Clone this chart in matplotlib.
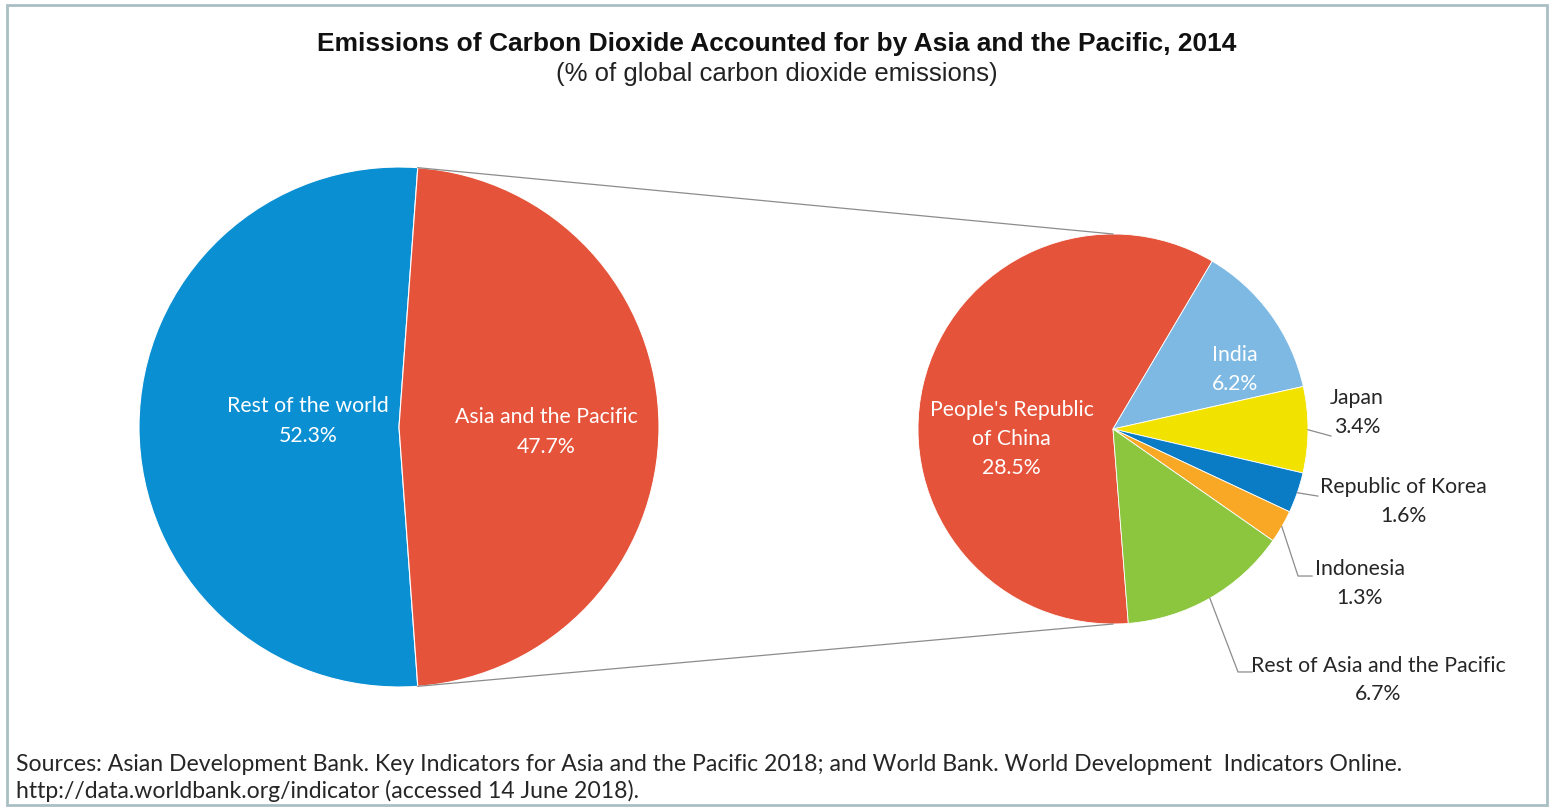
import matplotlib.pyplot as plt
from matplotlib.patches import Rectangle
import numpy as np

W, H = 1554, 812

world_labels = ['Rest of the world', 'Asia and the Pacific']
world_values = [52.3, 47.7]
world_colors = ['#0b8fd3', '#e5533a']

asia_labels = ["People's Republic\nof China", 'India', 'Japan',
               'Republic of Korea', 'Indonesia', 'Rest of Asia and the Pacific']
asia_values = [28.5, 6.2, 3.4, 1.6, 1.3, 6.7]
asia_colors = ['#e5533a', '#7db9e3', '#f2e200', '#0a7cc6', '#f9a825', '#8cc63f']

title = 'Emissions of Carbon Dioxide Accounted for by Asia and the Pacific, 2014'
subtitle = '(% of global carbon dioxide emissions)'
source = ('Sources: Asian Development Bank. Key Indicators for Asia and the Pacific 2018; '
          'and World Bank. World Development  Indicators Online.\n'
          'http://data.worldbank.org/indicator (accessed 14 June 2018).')

LBL = 'Lato'
FS = 15.3

# layout in pixels (y measured from the top, flipped below)
c1, r1 = (399, H - 428), 260
c2, r2 = (1113, H - 430), 195

fig = plt.figure(figsize=(W / 100, H / 100), dpi=100)
ax = fig.add_axes([0, 0, 1, 1])

tot = sum(world_values)
w1, _ = ax.pie(world_values, colors=world_colors, center=c1, radius=r1,
               startangle=180 - world_values[0] / tot * 180, counterclock=True,
               wedgeprops=dict(edgecolor='white', linewidth=0.8))
w2, _ = ax.pie(asia_values, colors=asia_colors, center=c2, radius=r2,
               startangle=274.5, counterclock=False,
               wedgeprops=dict(edgecolor='white', linewidth=0.6))

ax.set_xlim(0, W)
ax.set_ylim(0, H)
ax.set_aspect('equal')
ax.axis('off')

# labels inside the big pie (offsets in radius units)
left_pos = [(-0.35, 0.026), (0.567, -0.015)]
for lab, val, (dx, dy) in zip(world_labels, world_values, left_pos):
    ax.text(c1[0] + dx * r1, c1[1] + dy * r1, f'{lab}\n{val}%', color='white',
            fontsize=FS, family=LBL, ha='center', va='center', linespacing=1.6)

# labels of the second pie
asia_pos = [(-0.52, -0.046), (0.626, 0.308), (1.251, 0.092),
            (1.49, -0.369), (1.266, -0.785), (1.36, -1.282)]
inside = [True, True, False, False, False, False]
for lab, val, (dx, dy), ins in zip(asia_labels, asia_values, asia_pos, inside):
    ax.text(c2[0] + dx * r2, c2[1] + dy * r2, f'{lab}\n{val}%',
            color='white' if ins else '#262626', fontsize=FS, family=LBL,
            ha='center', va='center', linespacing=1.56)

# leader lines for the outside labels: elbow and end points in radius units
leaders = {2: [(1.118, -0.036)],
           3: [(1.051, -0.344)],
           4: [(0.949, -0.754), (1.021, -0.754)],
           5: [(0.641, -1.246), (0.713, -1.246)]}
for i, pts in leaders.items():
    w = w2[i]
    mid = np.deg2rad((w.theta1 + w.theta2) / 2)
    xs = [c2[0] + r2 * np.cos(mid)] + [c2[0] + p[0] * r2 for p in pts]
    ys = [c2[1] + r2 * np.sin(mid)] + [c2[1] + p[1] * r2 for p in pts]
    ax.plot(xs, ys, color='#8c8c8c', lw=0.9)

# connector lines between the two pies
asia_w = w1[1]
for ang, sgn in [(asia_w.theta2, 1), (asia_w.theta1, -1)]:
    a = np.deg2rad(ang)
    ax.plot([c1[0] + r1 * np.cos(a), c2[0]],
            [c1[1] + r1 * np.sin(a), c2[1] + sgn * r2],
            color='#8c8c8c', lw=0.9)

ax.text(W / 2, H - 51, title, fontsize=19, fontweight='bold',
        family='Liberation Sans', ha='center', va='baseline', color='#111111')
ax.text(W / 2, H - 81, subtitle, fontsize=18.5, family='Liberation Sans',
        ha='center', va='baseline', color='#222222')
ax.text(16, H - 778, source, fontsize=16.6, family=LBL, ha='left', va='center',
        color='#262626', linespacing=1.3)

fig.patches.append(Rectangle((7 / W, 6 / H), (W - 14) / W, (H - 12) / H,
                             transform=fig.transFigure, fill=False,
                             edgecolor='#a9bfc3', linewidth=2))

fig.savefig('out.png', dpi=100)
